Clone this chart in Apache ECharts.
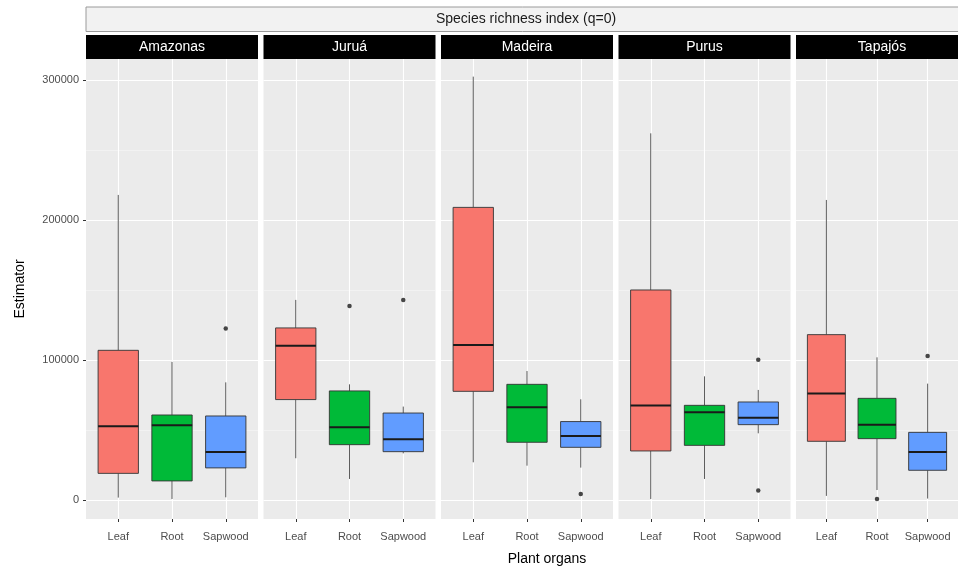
<!DOCTYPE html>
<html>
<head>
<meta charset="utf-8">
<script src="https://cdn.jsdelivr.net/npm/echarts@6/dist/echarts.min.js"></script>
<style>
  html, body { margin: 0; padding: 0; background: #fff; }
  #chart { width: 958px; height: 574px; }
</style>
</head>
<body>
<div id="chart"></div>
<script>
// Species richness (q=0) per basin and plant organ
const basins = ['Amazonas', 'Juruá', 'Madeira', 'Purus', 'Tapajós'];
const organs = ['Leaf', 'Root', 'Sapwood'];
const organColors = ['#F8766D', '#00BA38', '#619CFF'];

// Box summaries per organ: [lower whisker, Q1, median, Q3, upper whisker]
const amazonasStats = [
  [1700, 19000, 52600, 106900, 217900],
  [700, 13600, 53300, 60700, 98600],
  [1900, 22900, 34300, 60000, 84000]
];
const juruaStats = [
  [29800, 71700, 110200, 122900, 142900],
  [15000, 39500, 51900, 77900, 82600],
  [33300, 34500, 43300, 62100, 66700]
];
const madeiraStats = [
  [26900, 77600, 110700, 209000, 302400],
  [24500, 41200, 66200, 82600, 92100],
  [23100, 37600, 45700, 56000, 71900]
];
const purusStats = [
  [700, 35000, 67400, 150000, 261900],
  [15000, 39000, 62600, 67600, 88300],
  [47600, 53800, 58800, 70000, 78600]
];
const tapajosStats = [
  [2900, 41900, 76000, 118100, 214300],
  [7100, 43800, 53800, 72600, 101900],
  [1000, 21200, 34300, 48300, 83100]
];

// Outlying points per organ
const amazonasOutliers = [[], [], [122400]];
const juruaOutliers = [[], [138600], [142900]];
const madeiraOutliers = [[], [], [4300]];
const purusOutliers = [[], [], [100200, 6700]];
const tapajosOutliers = [[], [700], [102900]];

const yMajorTicks = [0, 100000, 200000, 300000];
const yMinorTicks = [50000, 150000, 250000];

const statsByBasin = [amazonasStats, juruaStats, madeiraStats, purusStats, tapajosStats];
const outliersByBasin = [amazonasOutliers, juruaOutliers, madeiraOutliers, purusOutliers, tapajosOutliers];

const FONT = "'Liberation Sans', Arial, Helvetica, sans-serif";
const panelLeft = 86, panelStep = 177.5, panelWidth = 172, panelTop = 59, panelHeight = 460;
const yMin = -13600, yMax = 315000;

const chart = echarts.init(document.getElementById('chart'), null, { renderer: 'canvas' });

const grids = [], xAxes = [], yAxes = [], series = [], graphics = [];

function renderBox(params, api) {
  const x = api.value(0);
  const lo = api.coord([x, api.value(1)]);
  const q1 = api.coord([x, api.value(2)]);
  const md = api.coord([x, api.value(3)]);
  const q3 = api.coord([x, api.value(4)]);
  const hi = api.coord([x, api.value(5)]);
  const half = api.size([0.75, 0], [x, 0])[0] / 2;
  const cx = md[0];
  const fill = organColors[Math.round(x) - 1];
  const whisker = { stroke: '#333333', lineWidth: 0.8 };
  return {
    type: 'group',
    children: [
      { type: 'line', shape: { x1: cx, y1: hi[1], x2: cx, y2: q3[1] }, style: whisker },
      { type: 'line', shape: { x1: cx, y1: q1[1], x2: cx, y2: lo[1] }, style: whisker },
      { type: 'rect', shape: { x: cx - half, y: q3[1], width: 2 * half, height: q1[1] - q3[1] },
        style: { fill: fill, stroke: '#333333', lineWidth: 0.9 } },
      { type: 'line', shape: { x1: cx - half, y1: md[1], x2: cx + half, y2: md[1] },
        style: { stroke: '#1A1A1A', lineWidth: 2 } }
    ]
  };
}

basins.forEach(function (name, i) {
  const left = panelLeft + panelStep * i;
  grids.push({
    left: left, top: panelTop, width: panelWidth, height: panelHeight,
    show: true, backgroundColor: '#EBEBEB', borderWidth: 0, containLabel: false
  });
  xAxes.push({
    type: 'value', gridIndex: i, min: 0.4, max: 3.6, position: 'bottom',
    axisLine: { show: false, onZero: false },
    axisTick: { show: true, customValues: [1, 2, 3], length: 3, lineStyle: { color: '#333333', width: 1 } },
    axisLabel: {
      show: true, customValues: [1, 2, 3], margin: 12,
      formatter: function (v) { return organs[Math.round(v) - 1] || ''; },
      color: '#4D4D4D', fontSize: 11, fontFamily: FONT
    },
    splitLine: { show: true, lineStyle: { color: '#FFFFFF', width: 1.1 } }
  });
  // major y gridlines and labels
  yAxes.push({
    type: 'value', gridIndex: i, min: yMin, max: yMax, position: 'left',
    axisLine: { show: false, onZero: false },
    axisTick: { show: i === 0, customValues: yMajorTicks, length: 3, lineStyle: { color: '#333333', width: 1 } },
    axisLabel: {
      show: i === 0, customValues: yMajorTicks, margin: 7,
      formatter: function (v) { return String(Math.round(v)); },
      color: '#4D4D4D', fontSize: 11, fontFamily: FONT
    },
    splitLine: { show: true, lineStyle: { color: '#FFFFFF', width: 1.1 } },
    name: i === 0 ? 'Estimator' : '',
    nameLocation: 'middle', nameGap: 59, nameRotate: 90,
    nameTextStyle: { color: '#000000', fontSize: 14, fontFamily: FONT }
  });
  // minor y gridlines
  yAxes.push({
    type: 'value', gridIndex: i, min: yMin, max: yMax, position: 'right',
    axisLine: { show: false, onZero: false },
    axisTick: { show: false, customValues: yMinorTicks },
    axisLabel: { show: false, customValues: yMinorTicks },
    splitLine: { show: true, lineStyle: { color: '#F7F7F7', width: 0.6 } }
  });

  const stats = statsByBasin[i];
  series.push({
    type: 'custom', xAxisIndex: i, yAxisIndex: 2 * i,
    renderItem: renderBox,
    encode: { x: 0, y: [1, 2, 3, 4, 5] },
    data: stats.map(function (s, j) { return [j + 1].concat(s); }),
    z: 3, silent: true
  });
  const pts = [];
  outliersByBasin[i].forEach(function (vals, j) {
    vals.forEach(function (v) { pts.push([j + 1, v]); });
  });
  series.push({
    type: 'scatter', xAxisIndex: i, yAxisIndex: 2 * i,
    data: pts, symbolSize: 4.5,
    itemStyle: { color: '#1A1A1A' }, z: 4, silent: true
  });

  // facet strip
  graphics.push({
    type: 'rect', left: left, top: 35,
    shape: { width: panelWidth, height: 24 },
    style: { fill: '#000000' }
  });
  graphics.push({
    type: 'text', x: left + panelWidth / 2, y: 47,
    style: { text: name, fill: '#FFFFFF', font: '14px ' + FONT, textAlign: 'center', textVerticalAlign: 'middle' }
  });
});

// outer strip spanning all facets
graphics.unshift({
  type: 'rect', left: 85.5, top: 6.5,
  shape: { width: 900, height: 24.5 },
  style: { fill: '#F2F2F2', stroke: '#9A9A9A', lineWidth: 1 }
});
graphics.push({
  type: 'text', x: 526, y: 19,
  style: { text: 'Species richness index (q=0)', fill: '#1A1A1A', font: '14px ' + FONT, textAlign: 'center', textVerticalAlign: 'middle' }
});
graphics.push({
  type: 'text', x: 547, y: 559,
  style: { text: 'Plant organs', fill: '#000000', font: '14px ' + FONT, textAlign: 'center', textVerticalAlign: 'middle' }
});

chart.setOption({
  animation: false,
  backgroundColor: '#FFFFFF',
  grid: grids,
  xAxis: xAxes,
  yAxis: yAxes,
  series: series,
  graphic: graphics
});
</script>
</body>
</html>
